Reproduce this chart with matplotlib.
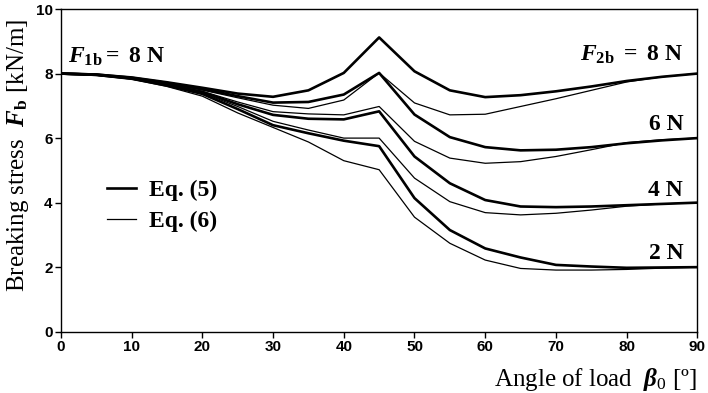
import matplotlib
matplotlib.use("Agg")
import matplotlib.pyplot as plt
from matplotlib.lines import Line2D

# angle of load in degrees
angle = [0, 5, 10, 15, 20, 25, 30, 35, 40, 45, 50, 55, 60, 65, 70, 75, 80, 85, 90]

# Eq. (5) - thick lines, F2b = 8, 6, 4, 2 N
eq5_8 = [8.0, 7.97, 7.88, 7.73, 7.56, 7.38, 7.28, 7.48, 8.02, 9.12, 8.07, 7.48, 7.27, 7.33, 7.45, 7.6, 7.77, 7.9, 8.0]
eq5_6 = [8.0, 7.97, 7.87, 7.71, 7.52, 7.3, 7.1, 7.12, 7.35, 8.02, 6.73, 6.03, 5.72, 5.62, 5.64, 5.72, 5.84, 5.93, 6.0]
eq5_4 = [8.0, 7.96, 7.85, 7.66, 7.43, 7.05, 6.72, 6.6, 6.58, 6.83, 5.43, 4.6, 4.08, 3.88, 3.86, 3.88, 3.92, 3.96, 4.0]
eq5_2 = [8.0, 7.96, 7.84, 7.63, 7.37, 6.9, 6.4, 6.15, 5.92, 5.75, 4.14, 3.15, 2.58, 2.3, 2.07, 2.02, 1.98, 1.99, 2.0]

# Eq. (6) - thin lines
eq6_8 = [8.0, 7.96, 7.86, 7.69, 7.49, 7.25, 7.02, 6.92, 7.18, 8.02, 7.09, 6.72, 6.74, 6.98, 7.22, 7.48, 7.74, 7.9, 8.0]
eq6_6 = [8.0, 7.96, 7.85, 7.67, 7.45, 7.12, 6.82, 6.75, 6.72, 6.98, 5.9, 5.38, 5.22, 5.27, 5.43, 5.64, 5.86, 5.95, 6.0]
eq6_4 = [8.0, 7.96, 7.84, 7.64, 7.4, 6.98, 6.52, 6.25, 6.0, 6.0, 4.76, 4.03, 3.69, 3.62, 3.67, 3.77, 3.89, 3.96, 4.0]
eq6_2 = [8.0, 7.95, 7.83, 7.6, 7.3, 6.78, 6.33, 5.88, 5.3, 5.02, 3.55, 2.74, 2.22, 1.96, 1.91, 1.91, 1.93, 1.97, 2.0]

labels_right = ["6 N", "4 N", "2 N"]
label_y = [6.41, 4.39, 2.41]

plt.rcParams['mathtext.fontset'] = 'custom'
plt.rcParams['mathtext.rm'] = 'Liberation Serif'
plt.rcParams['mathtext.it'] = 'Liberation Serif:italic:bold'
plt.rcParams['mathtext.bf'] = 'Liberation Serif:bold'

fig = plt.figure(figsize=(7.08, 3.93), dpi=100)
ax = fig.add_axes([0.086, 0.156, 0.899, 0.821])

for y in [eq5_8, eq5_6, eq5_4, eq5_2]:
    ax.plot(angle, y, color="black", lw=1.9)
for y in [eq6_8, eq6_6, eq6_4, eq6_2]:
    ax.plot(angle, y, color="black", lw=0.9)

ax.set_xlim(0, 90)
ax.set_ylim(0, 10)
ax.set_xticks(range(0, 91, 10))
ax.set_yticks(range(0, 11, 2))
for lab in ax.get_xticklabels() + ax.get_yticklabels():
    lab.set_fontfamily("Liberation Sans")
    lab.set_fontweight("bold")
    lab.set_fontsize(11)
ax.tick_params(direction="out", length=4, width=1, pad=2)
for s in ax.spines.values():
    s.set_linewidth(1)

ax.set_ylabel(r"Breaking stress  $F_{\mathbf{b}}$ [kN/m]", family="Liberation Serif",
              fontsize=18)
ax.yaxis.set_label_coords(-0.047, 0.545)
ax.set_xlabel(r"Angle of load  $\beta_{0}$ [º]", family="Liberation Serif",
              fontsize=18)
ax.xaxis.set_label_coords(1.0, -0.105)
ax.xaxis.label.set_horizontalalignment("right")

ax.text(1, 8.52, r"$F_{\mathbf{1b}}$$\mathbf{ =\ 8\ N}$", family="Liberation Serif",
        fontsize=17, fontweight="bold", va="center", ha="left")
ax.text(88, 8.59, r"$F_{\mathbf{2b}}$$\mathbf{\ =\ 8\ N}$", family="Liberation Serif",
        fontsize=17, fontweight="bold", va="center", ha="right")
for t, yy in zip(labels_right, label_y):
    ax.text(88, yy, t, family="Liberation Serif", fontsize=17, fontweight="bold",
            va="center", ha="right")

handles = [Line2D([], [], color="black", lw=1.9), Line2D([], [], color="black", lw=0.9)]
leg = ax.legend(handles, ["Eq. (5)", "Eq. (6)"], loc="upper left",
                bbox_to_anchor=(0.057, 0.5), frameon=False, handlelength=1.25,
                handletextpad=0.55, labelspacing=0.4, borderaxespad=0,
                prop={"family": "Liberation Serif", "weight": "bold", "size": 17})

fig.savefig("out.png", dpi=100)
